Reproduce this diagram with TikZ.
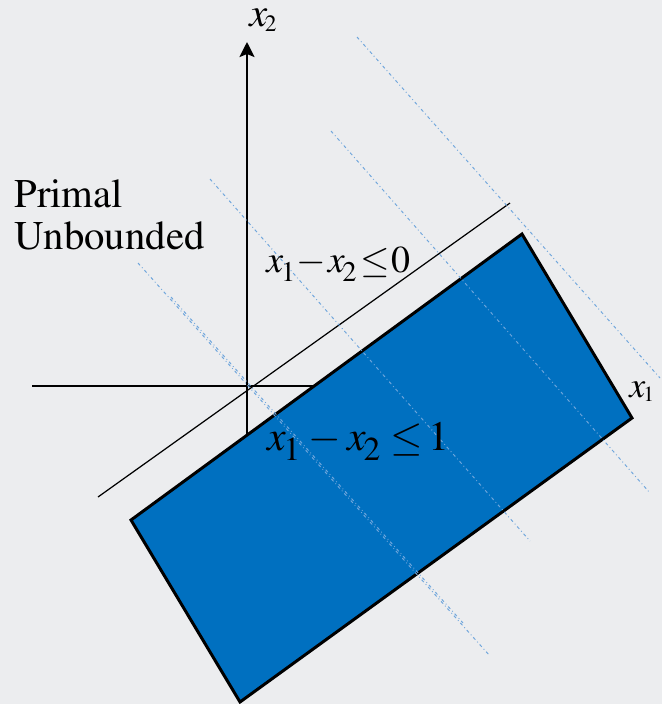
\documentclass[tikz,border=0pt]{standalone}
\usepackage{graphicx}
\usepackage[T1]{fontenc}
\usepackage{mathptmx}
\usetikzlibrary{arrows.meta}

\definecolor{bgpanel}{HTML}{ECEDEF}
\definecolor{regionblue}{HTML}{0070C0}
\definecolor{levelblue}{HTML}{6FA6DC}

% italic x with a lowered, scaled index
\newcommand{\varx}[3]{\textit{x}\kern-0.06em\raisebox{#2}{\scalebox{#3}{#1}}}

\begin{document}
\begin{tikzpicture}[x=0.02cm, y=-0.02cm,
	axis/.style={line width=1.4pt},
	region/.style={fill=regionblue, draw=black, line width=1.7pt, line join=miter},
	level/.style={levelblue, line width=0.55pt, dash pattern=on 1.8pt off 1.6pt on 0.5pt off 1.6pt},
	lbl/.style={inner sep=0pt, anchor=base west}]

		% Background panel (fixes the bounding box)
		\fill[bgpanel] (0,0) rectangle (662,704);

		% --- Axes ---
		\coordinate (O) at (247,386);
		\coordinate (x1left) at (32,386);
		\coordinate (x1right) at (600,386);
		\coordinate (x2bot) at (247,600);
		\coordinate (x2top) at (247,42);
		\draw[axis] (x1left) -- (x1right);
		\draw[axis, -{Stealth[length=0.3cm, width=0.3cm, inset=0.06cm]}] (x2bot) -- (x2top);

		% --- Boundary x1 - x2 = 0 ---
		\coordinate (bndA) at (98,497);
		\coordinate (bndB) at (510,203);
		\draw[line width=0.7pt] (bndA) -- (bndB);

		% --- Feasible region ---
		\coordinate (rA) at (131,520);
		\coordinate (rB) at (522,234);
		\coordinate (rC) at (632,418);
		\coordinate (rD) at (240,702);
		\draw[region] (rA) -- (rB) -- (rC) -- (rD) -- cycle;

		% --- Objective level lines ---
		\foreach \sx/\sy/\ex/\ey in {357/37/660/378, 331/131/650/493, 210/179/530/541, 138/263/490/656, 171/297/463/623}
			\draw[level] (\sx,\sy) -- (\ex,\ey);

		% --- Labels ---
		\node[lbl] (x2label) at (249,26) {\fontsize{23}{27}\selectfont\varx{2}{-0.13em}{0.58}};
		\node[lbl] (x1label) at (629,397) {\fontsize{20.5}{24}\selectfont\varx{1}{-0.13em}{0.6}};
		\node[inner sep=0pt, anchor=north west, align=left, font=\fontsize{23.2}{23.8}\selectfont] (primal) at (14,180) {Primal\\Unbounded};
		\node[lbl] (c0label) at (266,272) {\fontsize{21.6}{26}\selectfont\varx{1}{-0.26em}{0.75}\kern0.03em$-$\kern0.05em\varx{2}{-0.26em}{0.75}\kern0.1em$\leq$\kern0.03em0};
		\node[lbl] (c1label) at (267,450) {\fontsize{23.8}{28}\selectfont\varx{1}{-0.26em}{0.8}\kern0.2em$-$\kern0.15em\varx{2}{-0.26em}{0.8}\kern0.25em$\leq$\kern0.12em1};

	\end{tikzpicture}
\end{document}
